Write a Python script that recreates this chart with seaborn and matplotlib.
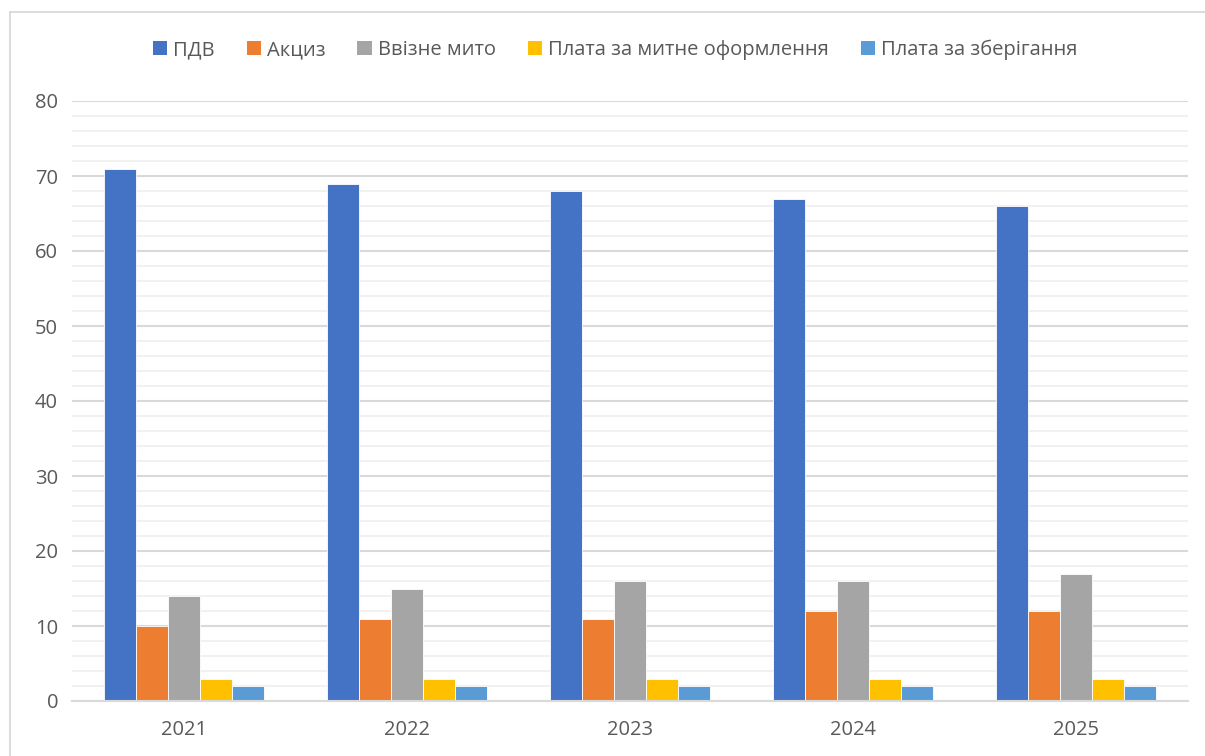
import matplotlib
matplotlib.use("Agg")
import matplotlib.pyplot as plt
import seaborn as sns
import pandas as pd
from matplotlib.lines import Line2D
from matplotlib.patches import Patch

years = ["2021", "2022", "2023", "2024", "2025"]
series_names = ["ПДВ", "Акциз", "Ввізне мито", "Плата за митне оформлення", "Плата за зберігання"]
pdv = [71, 69, 68, 67, 66]
akcyz = [10, 11, 11, 12, 12]
myto = [14, 15, 16, 16, 17]
oformlennia = [3, 3, 3, 3, 3]
zberigannia = [2, 2, 2, 2, 2]
colors = ["#4472C4", "#ED7D31", "#A5A5A5", "#FFC000", "#5B9BD5"]

values = [pdv, akcyz, myto, oformlennia, zberigannia]
rows = []
for name, vals in zip(series_names, values):
    for y, v in zip(years, vals):
        rows.append({"year": y, "series": name, "value": v})
df = pd.DataFrame(rows)

sns.set_style("white")
plt.rcParams["font.family"] = ["Open Sans", "DejaVu Sans"]

fig = plt.figure(figsize=(12.05, 7.56), dpi=100)
ax = fig.add_axes([72/1205, 55/756, (1188-72)/1205, 600/756])

sns.barplot(data=df, x="year", y="value", hue="series", hue_order=series_names,
            order=years, palette=colors, width=0.717, edgecolor="white",
            linewidth=0.6, ax=ax, legend=False, saturation=1)

ax.set_ylim(0, 80)
ax.set_xlim(-0.5, 4.5)
ax.set_yticks(range(0, 81, 10))
ax.set_yticks(range(0, 81, 2), minor=True)
ax.grid(axis="y", which="minor", color="#F0F0F0", linewidth=1.3, zorder=0)
ax.grid(axis="y", which="major", color="#D9D9D9", linewidth=1.5, zorder=0)
ax.set_axisbelow(True)
ax.tick_params(axis="both", which="both", length=0, labelsize=14.5, labelcolor="#595959")
ax.tick_params(axis="y", pad=10)
ax.tick_params(axis="x", pad=14)
ax.set_xlabel("")
ax.set_ylabel("")
for s in ["left", "right", "top"]:
    ax.spines[s].set_visible(False)
ax.spines["bottom"].set_color("#D9D9D9")
ax.spines["bottom"].set_linewidth(1.5)

handles = [Patch(facecolor=c, edgecolor="none") for c in colors]
fig.legend(handles, series_names, loc="center", bbox_to_anchor=(615/1205, 1 - 50/756),
           ncol=5, frameon=False, fontsize=14.5, labelcolor="#595959",
           handlelength=0.7, handleheight=0.7, handletextpad=0.3, columnspacing=1.6)

# chart border
fig.add_artist(Line2D([10/1205, 10/1205], [0, 1 - 12/756], color="#D9D9D9", linewidth=1.3, transform=fig.transFigure))
fig.add_artist(Line2D([10/1205, 1], [1 - 12/756, 1 - 12/756], color="#D9D9D9", linewidth=1.3, transform=fig.transFigure))

fig.savefig("out.png", dpi=100)
